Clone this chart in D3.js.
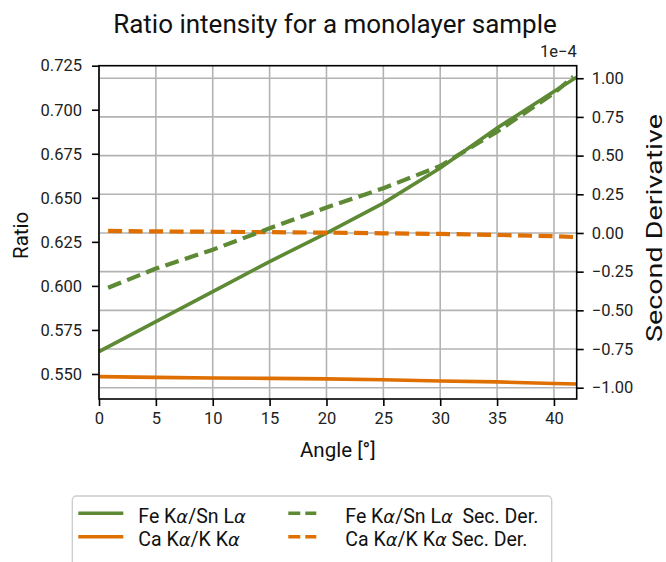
<!DOCTYPE html>
<html>
<head>
<meta charset="utf-8">
<script src="https://cdn.jsdelivr.net/npm/d3@7"></script>
<style>
  html, body { margin: 0; padding: 0; background: #fff; }
  svg { display: block; font-family: Roboto, "Open Sans", sans-serif; }
</style>
</head>
<body>
<svg id="chart" width="666" height="562"></svg>
<script>
// Measured angles (degrees) for the ratio curves
const angles = [0, 5, 10, 15, 20, 25, 30, 35, 40, 42];
// Intensity ratios (left axis)
const feSnRatio = [0.5627, 0.5797, 0.5968, 0.6138, 0.6300, 0.6470, 0.6669, 0.6896, 0.7104, 0.7185];
const caKRatio  = [0.5485, 0.5481, 0.5477, 0.5475, 0.5472, 0.5467, 0.5460, 0.5455, 0.5446, 0.5443];

// Angles for the second-derivative curves (end points lost by the difference scheme)
const derivAngles = [0.8, 5, 10, 15, 20, 25, 30, 35, 40, 41.7];
// Second derivatives (right axis, units of 1e-4)
const feSnDeriv = [-0.354, -0.230, -0.108, 0.030, 0.165, 0.289, 0.433, 0.655, 0.903, 1.010];
const caKDeriv  = [0.013, 0.010, 0.008, 0.005, 0.002, -0.002, -0.006, -0.013, -0.021, -0.026];

// Tick values
const xTicks = [0, 5, 10, 15, 20, 25, 30, 35, 40];
const leftTicks = [0.550, 0.575, 0.600, 0.625, 0.650, 0.675, 0.700, 0.725];
const rightTicks = [-1.00, -0.75, -0.50, -0.25, 0.00, 0.25, 0.50, 0.75, 1.00];

const GREEN = "#5e8a35";
const ORANGE = "#de6f00";
const GRID = "#b3b3b3";

const svg = d3.select("#chart");
const m = { left: 99, right: 576.7, top: 65.7, bottom: 399 };

const x = d3.scaleLinear().domain([0, 42]).range([m.left, m.right]);
const yL = d3.scaleLinear().domain([0.5358, 0.725]).range([m.bottom, m.top]);
const yR = d3.scaleLinear().domain([-1.073, 1.081]).range([m.bottom, m.top]);

const fmtMinus = s => s.replace("-", "\u2212");

// Grid: vertical from x ticks, horizontal from right axis ticks
const grid = svg.append("g");
grid.selectAll("line.v").data(xTicks).join("line")
  .attr("x1", d => x(d)).attr("x2", d => x(d))
  .attr("y1", m.top).attr("y2", m.bottom)
  .attr("stroke", GRID).attr("stroke-width", 1.6);
grid.selectAll("line.h").data(rightTicks).join("line")
  .attr("x1", m.left).attr("x2", m.right)
  .attr("y1", d => yR(d)).attr("y2", d => yR(d))
  .attr("stroke", GRID).attr("stroke-width", 1.6);

// Lines
svg.append("clipPath").attr("id", "plotclip").append("rect")
  .attr("x", m.left).attr("y", m.top - 2).attr("width", m.right - m.left).attr("height", m.bottom - m.top + 2);
const plot = svg.append("g").attr("clip-path", "url(#plotclip)");

const lineL = d3.line().x(d => x(d[0])).y(d => yL(d[1]));
const lineR = d3.line().x(d => x(d[0])).y(d => yR(d[1]));

plot.append("path").datum(d3.zip(angles, caKRatio)).attr("d", lineL)
  .attr("fill", "none").attr("stroke", ORANGE).attr("stroke-width", 3.6);
plot.append("path").datum(d3.zip(angles, feSnRatio)).attr("d", lineL)
  .attr("fill", "none").attr("stroke", GREEN).attr("stroke-width", 3.6);
plot.append("path").datum(d3.zip(derivAngles, caKDeriv)).attr("d", lineR)
  .attr("fill", "none").attr("stroke", ORANGE).attr("stroke-width", 4.2)
  .attr("stroke-dasharray", "14,6.5");
plot.append("path").datum(d3.zip(derivAngles, feSnDeriv)).attr("d", lineR)
  .attr("fill", "none").attr("stroke", GREEN).attr("stroke-width", 4.2)
  .attr("stroke-dasharray", "14,6.5");

// Axes
const tickFont = "16.5px";
const axB = svg.append("g").attr("transform", `translate(0,${m.bottom})`)
  .call(d3.axisBottom(x).tickValues(xTicks).tickFormat(d3.format("d")).tickSize(7).tickPadding(6));
const axL = svg.append("g").attr("transform", `translate(${m.left},0)`)
  .call(d3.axisLeft(yL).tickValues(leftTicks).tickFormat(d3.format(".3f")).tickSize(7).tickPadding(10));
const axR = svg.append("g").attr("transform", `translate(${m.right},0)`)
  .call(d3.axisRight(yR).tickValues(rightTicks).tickFormat(d => fmtMinus(d3.format(".2f")(d))).tickSize(7).tickPadding(8));

[axB, axL, axR].forEach(a => {
  a.select(".domain").remove();
  a.selectAll(".tick line").attr("stroke", "#000").attr("stroke-width", 1.6);
  a.selectAll(".tick text").attr("fill", "#222").style("font-size", tickFont)
    .style("font-family", "Roboto, sans-serif");
});

// Frame
svg.append("rect").attr("x", m.left).attr("y", m.top)
  .attr("width", m.right - m.left).attr("height", m.bottom - m.top)
  .attr("fill", "none").attr("stroke", "#000").attr("stroke-width", 1.6);

// Offset label for the right axis
svg.append("text").attr("x", m.right).attr("y", 57).attr("text-anchor", "end")
  .style("font-size", tickFont).attr("fill", "#222").text("1e\u22124");

// Title and axis labels
svg.append("text").attr("x", 335).attr("y", 33).attr("text-anchor", "middle")
  .style("font-size", "26px").attr("fill", "#111").text("Ratio intensity for a monolayer sample");
svg.append("text").attr("x", (m.left + m.right) / 2).attr("y", 457).attr("text-anchor", "middle")
  .style("font-size", "20.5px").attr("fill", "#111").text("Angle [°]");
svg.append("text").attr("transform", `translate(28,${(m.top + m.bottom) / 2 + 3}) rotate(-90)`)
  .attr("text-anchor", "middle").style("font-size", "20.5px").attr("fill", "#111").text("Ratio");
svg.append("text").attr("transform", `translate(662,228) rotate(-90)`)
  .attr("text-anchor", "middle").style("font-size", "22.5px").attr("fill", "#111")
  .attr("textLength", 228).attr("lengthAdjust", "spacingAndGlyphs").text("Second Derivative");

// Legend
const legendItems = [
  { parts: ["Fe K", "α", "/Sn L", "α", ""], color: GREEN, dashed: false, col: 0, row: 0 },
  { parts: ["Ca K", "α", "/K K", "α", ""], color: ORANGE, dashed: false, col: 0, row: 1 },
  { parts: ["Fe K", "α", "/Sn L", "α", "  Sec. Der."], color: GREEN, dashed: true, col: 1, row: 0 },
  { parts: ["Ca K", "α", "/K K", "α", " Sec. Der."], color: ORANGE, dashed: true, col: 1, row: 1 }
];
const lg = svg.append("g");
lg.append("rect").attr("x", 72.3).attr("y", 496).attr("width", 479.4).attr("height", 90)
  .attr("rx", 4).attr("fill", "#fff").attr("stroke", "#cccccc").attr("stroke-width", 1.3);
const colX = [78.3, 288.3];
const rowY = [513.3, 536.7];
legendItems.forEach(it => {
  const hx = colX[it.col], hy = rowY[it.row];
  lg.append("line").attr("x1", hx).attr("x2", hx + (it.dashed ? 28 : 45)).attr("y1", hy).attr("y2", hy)
    .attr("stroke", it.color).attr("stroke-width", 3.6)
    .attr("stroke-dasharray", it.dashed ? "12,5" : null);
  const t = lg.append("text").attr("x", hx + (it.dashed ? 57 : 60)).attr("y", hy + 9.4)
    .style("font-size", "19.5px").attr("fill", "#111").attr("xml:space", "preserve");
  it.parts.forEach((p, i) => {
    const ts = t.append("tspan").text(p);
    if (i % 2 === 1) ts.style("font-family", "'DejaVu Sans', sans-serif").style("font-style", "italic").style("font-size", "18px");
  });
});
</script>
</body>
</html>
